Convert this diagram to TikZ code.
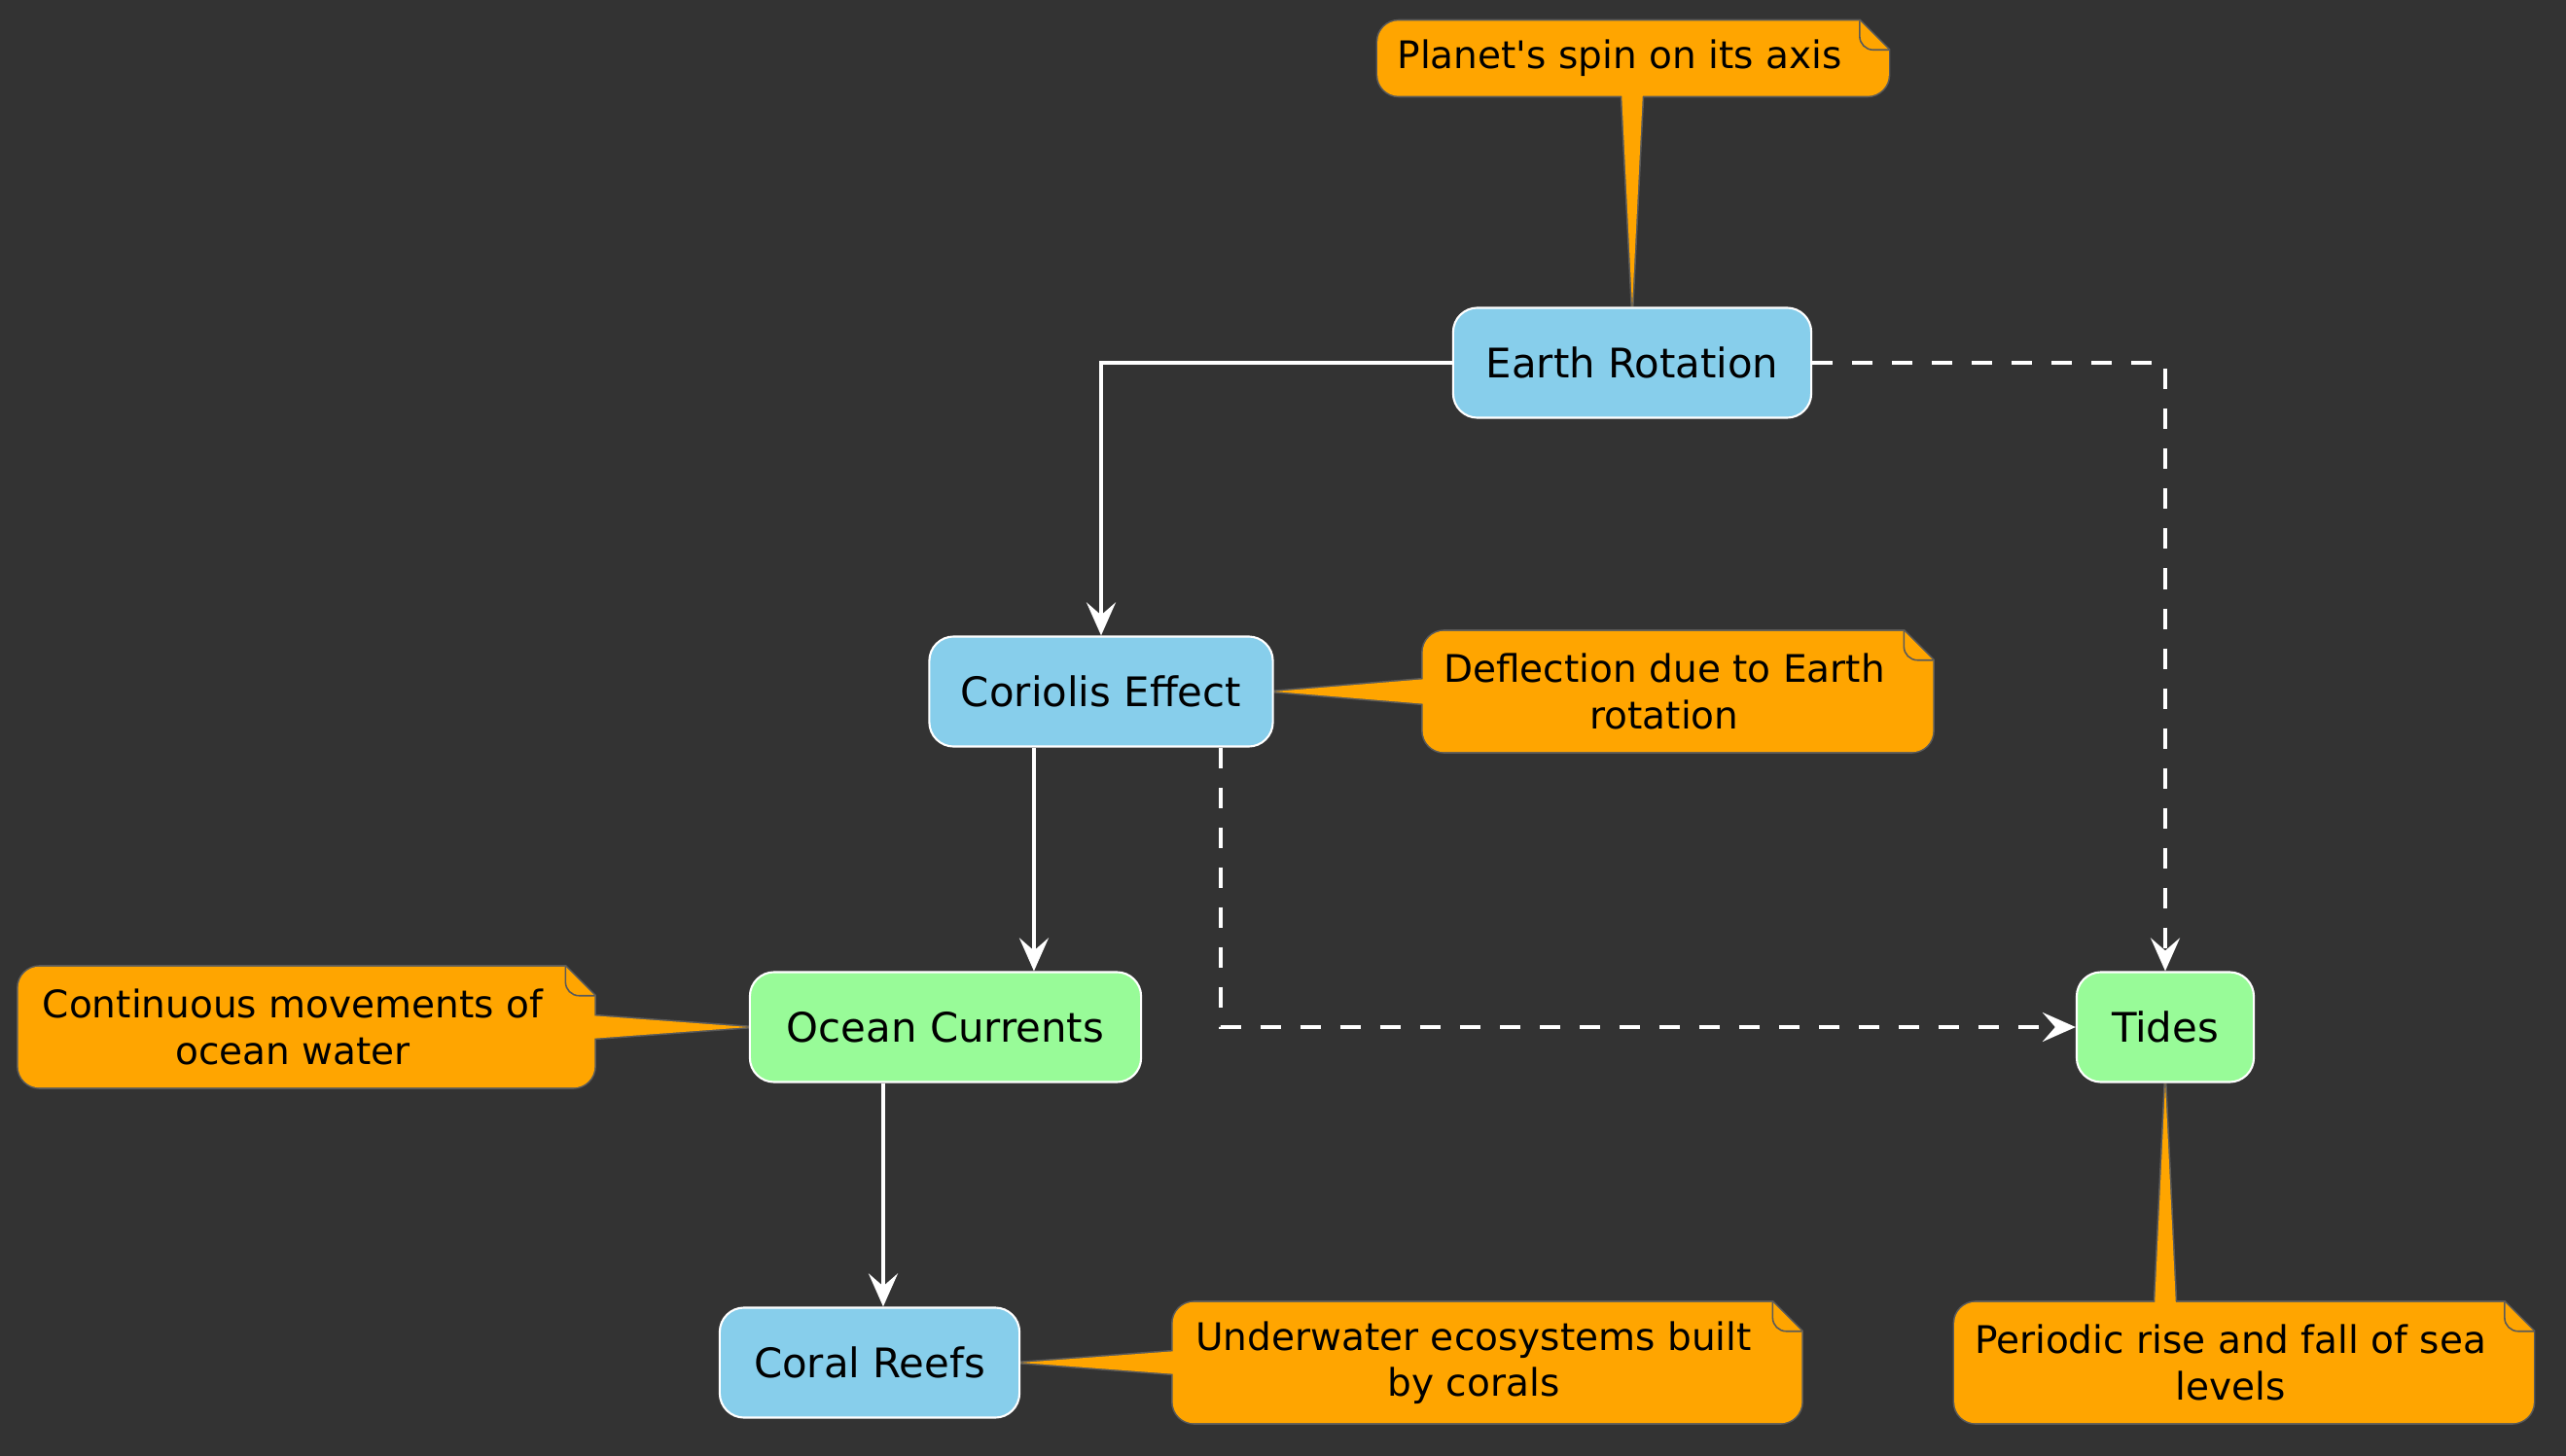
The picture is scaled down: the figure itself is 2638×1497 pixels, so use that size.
\documentclass[tikz,border=0pt]{standalone}
\usepackage{fontspec}
\setmainfont{DejaVu Sans}
\usetikzlibrary{calc,arrows.meta}

\definecolor{bgcol}{HTML}{333333}
\definecolor{skyblue}{HTML}{87CEEB}
\definecolor{palegreen}{HTML}{98FB98}
\definecolor{noteorange}{HTML}{FFA500}
\definecolor{notegray}{HTML}{5A5A5A}

\pgfdeclarelayer{back}
\pgfdeclarelayer{notes}
\pgfsetlayers{back,notes,main}

\tikzset{
  box/.style={draw=white, line width=0.6pt, rounded corners=0.25cm, minimum height=1.13cm, inner sep=0pt, text=black, font=\fontsize{11.9}{14}\selectfont},
  bluebox/.style={box, fill=skyblue},
  greenbox/.style={box, fill=palegreen},
  notetext/.style={inner sep=0pt, minimum height=1.23cm, align=center, text=black, font=\fontsize{11.1}{13.4}\selectfont},
  noteline/.style={draw=notegray, line width=0.9pt},
  foldline/.style={draw=notegray, line width=0.45pt, rounded corners=0.14cm},
  flow/.style={draw=white, line width=1.1pt, -{Stealth[length=0.34cm, width=0.3cm, inset=0.13cm]}},
  flowdash/.style={flow, dash pattern=on 0.21cm off 0.2cm},
}

% outline of a note, fold in the top right corner
\newcommand{\notepath}[1]{($(#1.north east)+(-2,0)$) -- ($(#1.north east)+(28,30)$) [rounded corners=0.22cm] -- ($(#1.south east)+(28,0)$) -- (#1.south west) -- (#1.north west) [sharp corners] -- cycle}

\newcommand{\drawnote}[2]{%
  \draw[noteline] \notepath{#1};
  \draw[noteline] #2;
  \fill[noteorange] \notepath{#1};
  \fill[noteorange] #2;
  \draw[foldline] ($(#1.north east)+(-2,0)$) -- ($(#1.north east)+(-2,30)$) -- ($(#1.north east)+(28,30)$);
}

\begin{document}
\begin{tikzpicture}[x=0.01cm, y=-0.01cm]
\begin{pgfonlayer}{back}
\fill[bgcol] (0,0) rectangle (2638,1497);
\end{pgfonlayer}
\useasboundingbox (0,0) rectangle (2638,1497);

% nodes
\node[bluebox, minimum width=3.68cm] (earth) at (1678,373) {Earth Rotation};
\node[bluebox, minimum width=3.53cm] (coriolis) at (1132,711) {Coriolis Effect};
\node[greenbox, minimum width=4.02cm] (ocean) at (972,1056) {Ocean Currents};
\node[greenbox, minimum width=1.82cm] (tides) at (2226,1056) {Tides};
\node[bluebox, minimum width=3.08cm] (coral) at (894,1401) {Coral Reefs};

% notes
\node[notetext, minimum width=4.96cm, minimum height=0.76cm] (nplanet) at (1665,60) {Planet\textquotesingle s spin on its axis};
\node[notetext, minimum width=4.95cm] (ndeflect) at (1711,711) {Deflection due to Earth\\rotation};
\node[notetext, minimum width=5.63cm] (ncurrent) at (301,1056) {Continuous movements of\\ocean water};
\node[notetext, minimum width=6.17cm] (nreef) at (1515,1401) {Underwater ecosystems built\\by corals};
\node[notetext, minimum width=5.66cm] (ntide) at (2293,1401) {Periodic rise and fall of sea\\levels};

\begin{pgfonlayer}{notes}
\drawnote{nplanet}{($(earth.north |- nplanet.south)+(-11,-5)$) -- (earth.north) -- ($(earth.north |- nplanet.south)+(11,-5)$) -- cycle}
\drawnote{ndeflect}{($(ndeflect.west |- coriolis.east)+(5,-13)$) -- (coriolis.east) -- ($(ndeflect.west |- coriolis.east)+(5,13)$) -- cycle}
\drawnote{ncurrent}{($(ncurrent.east |- ocean.west)+(23,-12)$) -- (ocean.west) -- ($(ncurrent.east |- ocean.west)+(23,12)$) -- cycle}
\drawnote{nreef}{($(nreef.west |- coral.east)+(5,-12)$) -- (coral.east) -- ($(nreef.west |- coral.east)+(5,12)$) -- cycle}
\drawnote{ntide}{($(tides.south |- ntide.north)+(-11,5)$) -- (tides.south) -- ($(tides.south |- ntide.north)+(11,5)$) -- cycle}
\end{pgfonlayer}

% connectors
\coordinate (c1) at ([xshift=-0.69cm]coriolis.south);
\coordinate (c2) at ([xshift=1.23cm]coriolis.south);
\coordinate (o1) at ([xshift=-0.64cm]ocean.south);
\draw[flow] (earth.west) -| (coriolis.north);
\draw[flowdash] (earth.east) -| (tides.north);
\draw[flow] (c1) -- (c1 |- ocean.north);
\draw[flowdash] (c2) |- (tides.west);
\draw[flow] (o1) -- (o1 |- coral.north);

\end{tikzpicture}
\end{document}
